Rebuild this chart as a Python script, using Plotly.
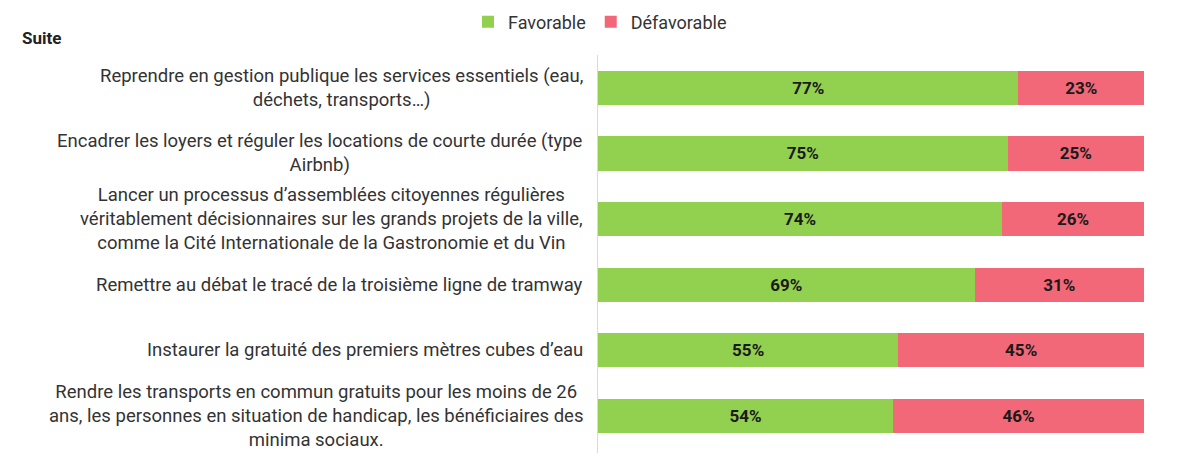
import plotly.graph_objects as go

categories = [
    "Reprendre en gestion publique les services essentiels (eau,<br>déchets, transports…)",
    "Encadrer les loyers et réguler les locations de courte durée (type<br>Airbnb)",
    "Lancer un processus d’assemblées citoyennes régulières<br>véritablement décisionnaires sur les grands projets de la ville,<br>comme la Cité Internationale de la Gastronomie et du Vin",
    "Remettre au débat le tracé de la troisième ligne de tramway",
    "Instaurer la gratuité des premiers mètres cubes d’eau",
    "Rendre les transports en commun gratuits pour les moins de 26<br>ans, les personnes en situation de handicap, les bénéficiaires des<br>minima sociaux.",
]
favorable = [77, 75, 74, 69, 55, 54]
defavorable = [23, 25, 26, 31, 45, 46]

GREEN = "#92D050"
PINK = "#F26878"
FONT = "Roboto"

ids = [str(i) for i in range(len(categories))]

fig = go.Figure()
for name, vals, col in [("Favorable", favorable, GREEN), ("Défavorable", defavorable, PINK)]:
    fig.add_trace(go.Bar(
        y=ids, x=vals, orientation="h", name=name,
        marker=dict(color=col, line=dict(width=0)),
        text=[f"{v}%" for v in vals], textposition="inside",
        insidetextanchor="middle",
        textfont=dict(family=FONT, size=17, color="#1a1a1a", weight="bold"),
        width=0.52,
    ))

for i, c in zip(ids, categories):
    fig.add_annotation(
        x=0, xref="paper", y=i, yref="y", text=c, showarrow=False,
        xanchor="right", yanchor="middle", align="center", xshift=-13,
        font=dict(family=FONT, size=18.5, color="#333333"),
    )

L, R, T, B = 598, 56, 55, 13
PW, PH = 1200 - L - R, 466 - T - B
fig.add_annotation(
    x=(20 - L) / PW, xref="paper", y=1 + (T - 38) / PH, yref="paper",
    text="<b>Suite</b>", showarrow=False, xanchor="left", yanchor="middle",
    font=dict(family=FONT, size=17, color="#222222"),
)

fig.update_layout(
    width=1200, height=466,
    barmode="stack",
    plot_bgcolor="white", paper_bgcolor="white",
    margin=dict(l=L, r=R, t=T, b=B, autoexpand=False),
    showlegend=True,
    legend=dict(
        orientation="h", x=0.5, xref="container", xanchor="center",
        y=1 - 22 / 466, yref="container", yanchor="middle",
        font=dict(family=FONT, size=18, color="#333333"),
        traceorder="normal",
    ),
    font=dict(family=FONT),
    uniformtext=dict(minsize=10, mode="show"),
)
fig.update_xaxes(range=[0, 100], visible=False, fixedrange=True)
fig.update_yaxes(
    autorange="reversed", showticklabels=False, showgrid=False,
    showline=True, linecolor="#d9d9d9", linewidth=1, zeroline=False,
)

fig.write_html("out.html")
